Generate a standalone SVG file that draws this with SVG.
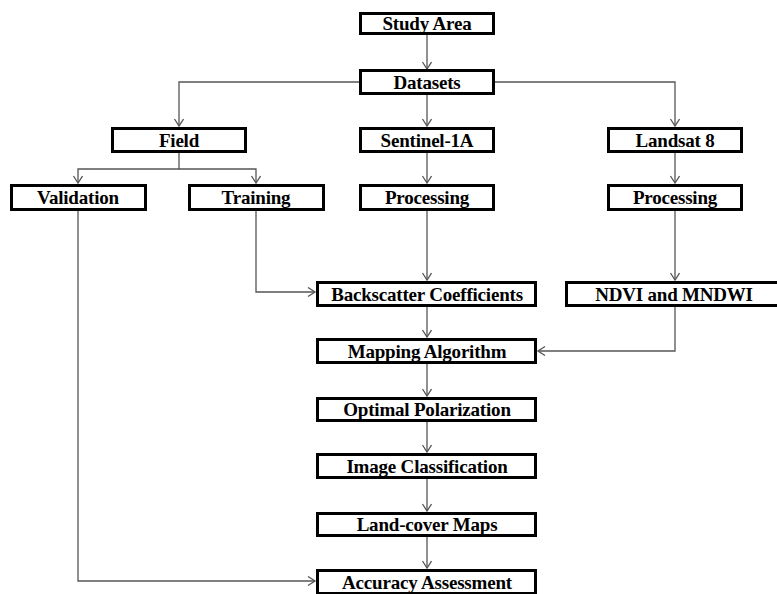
<svg xmlns="http://www.w3.org/2000/svg" width="777" height="594" viewBox="0 0 777 594">
<style>
.box{fill:#fff;stroke:#000;stroke-width:3}
.lbl{font-family:"Liberation Serif","Times New Roman",serif;font-weight:bold;font-size:19px;fill:#000;text-anchor:middle;letter-spacing:-0.2px}
.conn{fill:none;stroke:#555;stroke-width:1.3}
</style>
<defs>
<marker id="arr" markerUnits="userSpaceOnUse" markerWidth="12" markerHeight="12" refX="8" refY="5" orient="auto">
<path d="M1,0.5 L8,5 L1,9.5" fill="none" stroke="#555" stroke-width="1.3"/>
</marker>
</defs>
<rect width="777" height="594" fill="#fff"/>
<g id="connectors" class="conn">
<path class="conn" d="M427,34 V69" marker-end="url(#arr)"/>
<path class="conn" d="M359,82 H179 V126" marker-end="url(#arr)"/>
<path class="conn" d="M495,82 H675 V126" marker-end="url(#arr)"/>
<path class="conn" d="M427,95 V126" marker-end="url(#arr)"/>
<path class="conn" d="M179,153 V169 H78 V183" marker-end="url(#arr)"/>
<path class="conn" d="M179,169 H256 V183" marker-end="url(#arr)"/>
<path class="conn" d="M427,153 V183" marker-end="url(#arr)"/>
<path class="conn" d="M675,153 V183" marker-end="url(#arr)"/>
<path class="conn" d="M427,211 V280" marker-end="url(#arr)"/>
<path class="conn" d="M675,211 V280" marker-end="url(#arr)"/>
<path class="conn" d="M256,211 V292 H315" marker-end="url(#arr)"/>
<path class="conn" d="M427,307 V337" marker-end="url(#arr)"/>
<path class="conn" d="M675,307 V351 H538" marker-end="url(#arr)"/>
<path class="conn" d="M427,364 V396" marker-end="url(#arr)"/>
<path class="conn" d="M427,422 V452" marker-end="url(#arr)"/>
<path class="conn" d="M427,479 V511" marker-end="url(#arr)"/>
<path class="conn" d="M427,537 V568" marker-end="url(#arr)"/>
<path class="conn" d="M78,211 V581 H315" marker-end="url(#arr)"/>
</g>
<g id="study-area"><rect class="box" x="360.5" y="13.5" width="133" height="20"/><text class="lbl" x="427" y="30">Study Area</text></g>
<g id="datasets"><rect class="box" x="360.5" y="70.5" width="133" height="23"/><text class="lbl" x="427" y="88.5">Datasets</text></g>
<g id="field"><rect class="box" x="112.5" y="128.5" width="133" height="23"/><text class="lbl" x="179" y="146.5">Field</text></g>
<g id="sentinel"><rect class="box" x="360.5" y="128.5" width="133" height="23"/><text class="lbl" x="427" y="146.5">Sentinel-1A</text></g>
<g id="landsat"><rect class="box" x="608.5" y="128.5" width="133" height="23"/><text class="lbl" x="675" y="146.5">Landsat 8</text></g>
<g id="validation"><rect class="box" x="11.5" y="185.5" width="134" height="24"/><text class="lbl" x="78" y="204">Validation</text></g>
<g id="training"><rect class="box" x="189.5" y="185.5" width="134" height="24"/><text class="lbl" x="256" y="204">Training</text></g>
<g id="processing-s1"><rect class="box" x="360.5" y="185.5" width="133" height="24"/><text class="lbl" x="427" y="204">Processing</text></g>
<g id="processing-l8"><rect class="box" x="608.5" y="185.5" width="133" height="24"/><text class="lbl" x="675" y="204">Processing</text></g>
<g id="backscatter"><rect class="box" x="317.5" y="282.5" width="218" height="23"/><text class="lbl" x="427" y="300.5">Backscatter Coefficients</text></g>
<g id="ndvi"><rect class="box" x="566.5" y="282.5" width="218" height="23"/><text class="lbl" x="674" y="300.5">NDVI and MNDWI</text></g>
<g id="mapping"><rect class="box" x="317.5" y="339.5" width="218" height="23"/><text class="lbl" x="427" y="357.5">Mapping Algorithm</text></g>
<g id="optimal"><rect class="box" x="317.5" y="398.5" width="218" height="22"/><text class="lbl" x="427" y="416">Optimal Polarization</text></g>
<g id="classification"><rect class="box" x="317.5" y="454.5" width="218" height="23"/><text class="lbl" x="427" y="472.5">Image Classification</text></g>
<g id="landcover"><rect class="box" x="317.5" y="513.5" width="218" height="22"/><text class="lbl" x="427" y="531">Land-cover Maps</text></g>
<g id="accuracy"><rect class="box" x="317.5" y="570.5" width="218" height="23"/><text class="lbl" x="427" y="588.5">Accuracy Assessment</text></g>
</svg>
